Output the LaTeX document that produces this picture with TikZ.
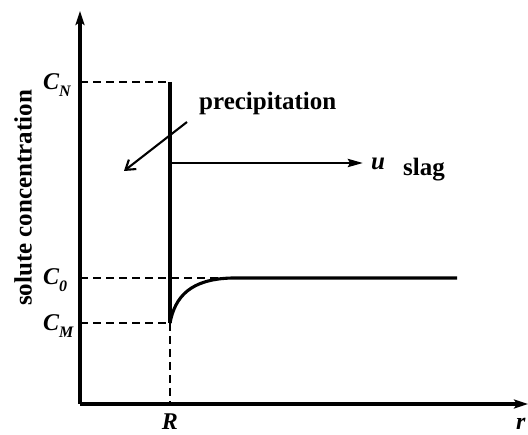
\documentclass[tikz,border=0pt]{standalone}
\usepackage{fontspec}
\setmainfont{Liberation Serif}
\usetikzlibrary{arrows.meta}
\newcommand{\subsc}[1]{\raisebox{-0.28em}{\fontsize{16}{16}\selectfont #1}}
\begin{document}
\begin{tikzpicture}[x=1pt,y=-1pt,
  axisline/.style={line width=3.1pt},
  dashline/.style={line width=2.3pt,dash pattern=on 8pt off 5pt},
  solidline/.style={line width=3.1pt},
  lab/.style={inner sep=0pt,font=\fontsize{24}{26}\selectfont\bfseries\itshape},
  txt/.style={inner sep=0pt,font=\fontsize{25}{28}\selectfont\bfseries},
  bigtip/.style={-{Stealth[length=14pt,width=9pt,inset=3pt]}}
]
\useasboundingbox (0,0) rectangle (528,435);
% coordinates
\coordinate (O) at (80,404);
\coordinate (ytop) at (80,11);
\coordinate (xend) at (528,404);
\coordinate (Rn) at (170,82);
\coordinate (Rm) at (170,323);
\coordinate (Rb) at (170,404);
\coordinate (yN) at (80,82);
\coordinate (y0) at (80,278);
\coordinate (yM) at (80,323);
\coordinate (c0e) at (232,278);
\coordinate (c0end) at (457,278);
\coordinate (us) at (170,163);
\coordinate (ue) at (363,163);
\coordinate (ps) at (187,122);
\coordinate (pe) at (124,171);
% dashed guides
\draw[dashline] (yN) -- (Rn);
\draw[dashline] (y0) -- (c0e);
\draw[dashline] (yM) -- (Rm);
\draw[dashline] (Rm) -- (Rb);
% axes
\draw[axisline,bigtip] (O) -- (ytop);
\draw[axisline,bigtip] (O) -- (xend);
% interface line
\draw[solidline] (Rn) -- (Rm);
% concentration curve
\draw[solidline] (Rm) .. controls (175,297) and (190,279) .. (c0e) -- (c0end);
% velocity arrow
\draw[line width=2.8pt,-{Stealth[length=15pt,width=8pt,inset=2pt]}] (us) -- (ue);
% precipitation arrow
\draw[line width=2.1pt,-{Straight Barb[length=9pt,width=12pt]}] (ps) -- (pe);
% labels
\node[lab,anchor=base west] (CN) at (43,90) {C\subsc{N}};
\node[lab,anchor=base west] (C0) at (43,285) {C\subsc{0}};
\node[lab,anchor=base west] (CM) at (43,331) {C\subsc{M}};
\node[lab,anchor=base] (Rl) at (170,430) {R};
\node[lab,anchor=base west] (rl) at (516,430) {r};
\node[lab,anchor=base west,font=\fontsize{25}{28}\selectfont\bfseries\itshape] (ul) at (371,170) {u};
\node[txt,anchor=base west] (sl) at (403,176) {slag};
\node[txt,anchor=base west] (pr) at (199,110) {precipitation};
\node[txt,rotate=90] (yl) at (23,198) {solute concentration};
\end{tikzpicture}
\end{document}
